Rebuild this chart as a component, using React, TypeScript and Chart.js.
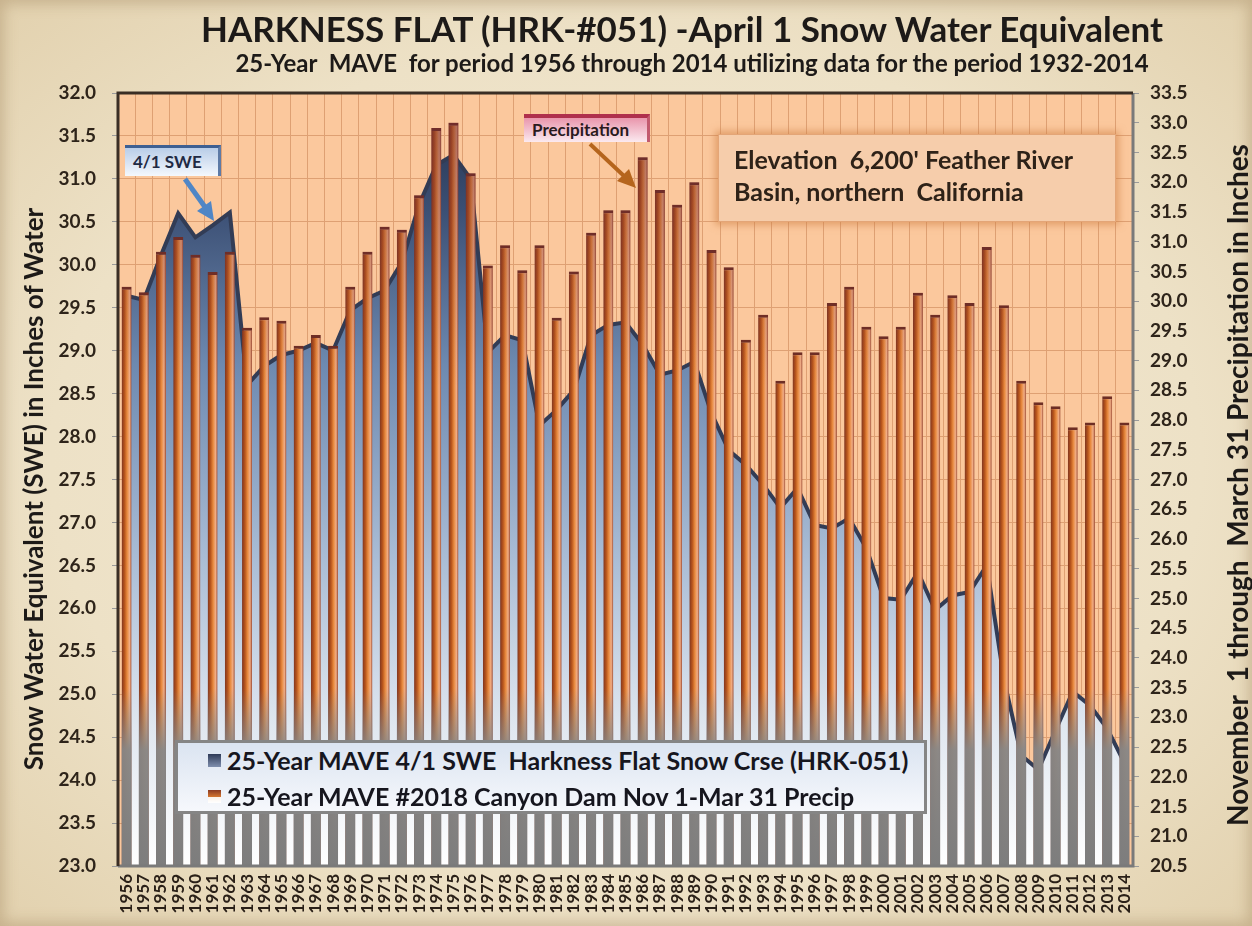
import React, { useEffect, useRef } from "react";
import { Chart, registerables } from "chart.js";

Chart.register(...registerables);

const FONT = "Lato, 'Open Sans', 'DejaVu Sans', sans-serif";

const years = [
  "1956", "1957", "1958", "1959", "1960", "1961", "1962", "1963", "1964", "1965",
  "1966", "1967", "1968", "1969", "1970", "1971", "1972", "1973", "1974", "1975",
  "1976", "1977", "1978", "1979", "1980", "1981", "1982", "1983", "1984", "1985",
  "1986", "1987", "1988", "1989", "1990", "1991", "1992", "1993", "1994", "1995",
  "1996", "1997", "1998", "1999", "2000", "2001", "2002", "2003", "2004", "2005",
  "2006", "2007", "2008", "2009", "2010", "2011", "2012", "2013", "2014",
];

// 25-Year MAVE 4/1 SWE, Harkness Flat (left axis, inches of water)
const sweValues = [
  29.64, 29.59, 30.11, 30.6, 30.32, 30.46, 30.61, 28.6, 28.82, 28.95,
  29.0, 29.09, 29.0, 29.47, 29.61, 29.7, 30.03, 30.7, 31.16, 31.28,
  31.0, 28.98, 29.18, 29.12, 28.13, 28.31, 28.54, 29.18, 29.3, 29.33,
  29.07, 28.72, 28.77, 28.87, 28.27, 27.84, 27.67, 27.44, 27.17, 27.4,
  26.97, 26.93, 27.05, 26.7, 26.12, 26.1, 26.42, 25.98, 26.15, 26.19,
  26.5, 25.17, 24.29, 24.12, 24.58, 25.03, 24.87, 24.6, 24.2,
];

// 25-Year MAVE Canyon Dam Nov 1 - Mar 31 precipitation (right axis, inches)
const precipValues = [
  30.24, 30.15, 30.83, 31.08, 30.78, 30.49, 30.83, 29.55, 29.73, 29.67,
  29.25, 29.43, 29.25, 30.24, 30.83, 31.25, 31.2, 31.78, 32.91, 33.0,
  32.15, 30.6, 30.94, 30.52, 30.94, 29.72, 30.5, 31.15, 31.53, 31.53,
  32.42, 31.87, 31.62, 32.0, 30.86, 30.57, 29.35, 29.77, 28.66, 29.14,
  29.14, 29.97, 30.24, 29.57, 29.41, 29.57, 30.14, 29.77, 30.1, 29.97,
  30.91, 29.93, 28.66, 28.3, 28.23, 27.88, 27.96, 28.4, 27.96,
];

const sweAxisMin = 23.0;
const sweAxisMax = 32.0;
const precipAxisMin = 20.5;
const precipAxisMax = 33.5;
const tickStep = 0.5;

const titleText = "HARKNESS FLAT (HRK-#051) -April 1 Snow Water Equivalent";
const subtitleText =
  "25-Year  MAVE  for period 1956 through 2014 utilizing data for the period 1932-2014";
const leftAxisTitle = "Snow Water Equivalent (SWE) in Inches of Water";
const rightAxisTitle = "November  1 through  March 31 Precipitation in Inches";
const legendSwe = "25-Year MAVE 4/1 SWE  Harkness Flat Snow Crse (HRK-051)";
const legendPrecip = "25-Year MAVE #2018 Canyon Dam Nov 1-Mar 31 Precip";
const noteSwe = "4/1 SWE";
const notePrecip = "Precipitation";
const noteElevation1 = "Elevation  6,200' Feather River";
const noteElevation2 = "Basin, northern  California";

const BAR_PCT = 0.58;

const plotFrame = {
  id: "plotFrame",
  beforeDraw(chart: any) {
    const { ctx, chartArea: a } = chart;
    if (!a) return;
    ctx.save();
    ctx.fillStyle = "#FBC89D";
    ctx.fillRect(a.left, a.top, a.right - a.left, a.bottom - a.top);
    ctx.restore();
  },
  afterDraw(chart: any) {
    const { ctx, chartArea: a } = chart;
    if (!a) return;
    ctx.save();
    ctx.lineWidth = 3;
    ctx.strokeStyle = "#7a7a7a";
    ctx.beginPath();
    ctx.moveTo(a.left, a.bottom);
    ctx.lineTo(a.right, a.bottom);
    ctx.lineTo(a.right, a.top);
    ctx.stroke();
    ctx.strokeStyle = "#3a2e25";
    ctx.beginPath();
    ctx.moveTo(a.left, a.bottom);
    ctx.lineTo(a.left, a.top);
    ctx.lineTo(a.right, a.top);
    ctx.stroke();
    ctx.restore();
  },
};

function barGradient(c: any) {
  const chart = c.chart;
  const a = chart.chartArea;
  if (!a || c.type !== "data") return "#c8601e";
  const x = chart.scales.x.getPixelForValue(c.dataIndex);
  const half = ((a.right - a.left) / years.length) * BAR_PCT * 0.5;
  const g = chart.ctx.createLinearGradient(x - half, 0, x + half, 0);
  g.addColorStop(0, "#7e3420");
  g.addColorStop(0.3, "#b9561c");
  g.addColorStop(0.55, "#e88a3e");
  g.addColorStop(0.8, "#f1ad85");
  g.addColorStop(1, "#9a4a32");
  return g;
}

function barShade(c: any) {
  const chart = c.chart;
  const a = chart.chartArea;
  if (!a) return "rgba(0,0,0,0)";
  const g = chart.ctx.createLinearGradient(0, a.top, 0, a.bottom);
  g.addColorStop(0, "rgba(115,45,50,0.55)");
  g.addColorStop(0.38, "rgba(115,45,50,0)");
  g.addColorStop(0.77, "rgba(135,135,135,0)");
  g.addColorStop(0.85, "rgba(135,135,135,0.95)");
  g.addColorStop(1, "rgba(125,125,125,1)");
  return g;
}

function areaGradient(c: any) {
  const chart = c.chart;
  const a = chart.chartArea;
  if (!a) return "#7f9cc2";
  const g = chart.ctx.createLinearGradient(0, a.top, 0, a.bottom);
  g.addColorStop(0, "#232e47");
  g.addColorStop(0.15, "#3b4f74");
  g.addColorStop(0.35, "#6d89b0");
  g.addColorStop(0.6, "#a9bcd5");
  g.addColorStop(0.82, "#e0e7f0");
  g.addColorStop(1, "#ffffff");
  return g;
}

const tickFont = (size: number) => ({ family: FONT, weight: "bold" as const, size });

export default function App() {
  const canvasRef = useRef<HTMLCanvasElement | null>(null);

  useEffect(() => {
    if (!canvasRef.current) return;
    const chart = new Chart(canvasRef.current, {
      type: "bar",
      data: {
        labels: years,
        datasets: [
          {
            type: "bar",
            label: "precip-shade",
            data: precipValues,
            yAxisID: "y1",
            order: 0,
            grouped: false,
            barPercentage: BAR_PCT,
            categoryPercentage: 1,
            backgroundColor: barShade,
            borderWidth: 0,
          } as any,
          {
            type: "bar",
            label: legendPrecip,
            data: precipValues,
            yAxisID: "y1",
            order: 1,
            grouped: false,
            barPercentage: BAR_PCT,
            categoryPercentage: 1,
            backgroundColor: barGradient,
            borderColor: "#6e2e24",
            borderWidth: { top: 3, left: 0, right: 0, bottom: 0 },
          } as any,
          {
            type: "line",
            label: legendSwe,
            data: sweValues,
            yAxisID: "y",
            order: 2,
            fill: "start",
            backgroundColor: areaGradient,
            borderColor: "#323c55",
            borderWidth: 4,
            pointRadius: 0,
            tension: 0,
          } as any,
        ],
      },
      options: {
        responsive: false,
        animation: false,
        events: [],
        layout: { padding: { top: 93, left: 0, right: 0, bottom: 0 } },
        plugins: {
          legend: { display: false },
          tooltip: { enabled: false },
          title: { display: false },
        },
        scales: {
          x: {
            type: "category",
            offset: true,
            grid: { color: "#DEA073", lineWidth: 1, offset: true, drawTicks: false },
            border: { display: false },
            ticks: {
              autoSkip: false,
              maxRotation: 90,
              minRotation: 90,
              font: tickFont(17),
              color: "#2a2018",
              padding: 8,
            },
            afterFit: (s: any) => {
              s.height = 60;
            },
          },
          y: {
            position: "left",
            min: sweAxisMin,
            max: sweAxisMax,
            ticks: {
              stepSize: tickStep,
              callback: (v: any) => Number(v).toFixed(1),
              font: tickFont(19),
              color: "#2e241a",
              padding: 16,
            },
            grid: { color: "#DEA073", tickColor: "#9a9a9a", tickLength: 6 },
            border: { display: false },
            afterFit: (s: any) => {
              s.width = 118;
            },
          },
          y1: {
            position: "right",
            min: precipAxisMin,
            max: precipAxisMax,
            ticks: {
              stepSize: tickStep,
              callback: (v: any) => Number(v).toFixed(1),
              font: tickFont(19),
              color: "#2e241a",
              padding: 11,
            },
            grid: { drawOnChartArea: false, tickColor: "#9a9a9a", tickLength: 6 },
            border: { display: false },
            afterFit: (s: any) => {
              s.width = 119;
            },
          },
        },
      } as any,
      plugins: [plotFrame],
    });
    return () => chart.destroy();
  }, []);

  const textBase: React.CSSProperties = {
    position: "absolute",
    fontFamily: FONT,
    fontWeight: 700,
    color: "#1d1a18",
    whiteSpace: "pre",
  };

  return (
    <div
      style={{
        position: "absolute",
        left: 0,
        top: 0,
        width: 1252,
        height: 926,
        overflow: "hidden",
        background:
          "radial-gradient(ellipse at 50% 50%, #f3ead6 0%, #ede1c6 65%, #e2d1ae 100%)",
        boxShadow: "inset 0 0 14px 4px rgba(150,120,80,0.35)",
      }}
    >
      <canvas
        ref={canvasRef}
        width={1252}
        height={926}
        style={{ position: "absolute", left: 0, top: 0, width: 1252, height: 926 }}
      />

      <div
        style={{
          ...textBase,
          left: 82,
          width: 1200,
          top: 6,
          textAlign: "center",
          fontSize: 35,
          lineHeight: "44px",
        }}
      >
        {titleText}
      </div>
      <div
        style={{
          ...textBase,
          left: 92,
          width: 1200,
          top: 48,
          textAlign: "center",
          fontSize: 24,
          lineHeight: "29px",
        }}
      >
        {subtitleText}
      </div>

      <div
        style={{
          ...textBase,
          left: 33 - 350,
          top: 489 - 17,
          width: 700,
          height: 34,
          lineHeight: "34px",
          textAlign: "center",
          fontSize: 26,
          transform: "rotate(-90deg)",
        }}
      >
        {leftAxisTitle}
      </div>
      <div
        style={{
          ...textBase,
          left: 1237 - 400,
          top: 485 - 17,
          width: 800,
          height: 34,
          lineHeight: "34px",
          textAlign: "center",
          fontSize: 28,
          transform: "rotate(-90deg)",
        }}
      >
        {rightAxisTitle}
      </div>

      {/* annotation: 4/1 SWE */}
      <div
        style={{
          ...textBase,
          left: 125,
          top: 145,
          width: 96,
          height: 31,
          boxSizing: "border-box",
          borderTop: "3px solid #3d5f92",
          borderRight: "3px solid #5d7aa6",
          background: "linear-gradient(#b9cde8, #f4f8fd)",
          fontSize: 17,
          lineHeight: "27px",
          paddingLeft: 8,
          color: "#1f2a44",
        }}
      >
        {noteSwe}
      </div>

      {/* annotation: Precipitation */}
      <div
        style={{
          ...textBase,
          left: 524,
          top: 114,
          width: 126,
          height: 28,
          boxSizing: "border-box",
          borderTop: "4px solid #b0304c",
          borderRight: "3px solid #c25a6e",
          background: "linear-gradient(#e996ac, #fbeaf0)",
          fontSize: 17,
          lineHeight: "23px",
          paddingLeft: 8,
          color: "#2a1a1e",
        }}
      >
        {notePrecip}
      </div>

      {/* annotation: Elevation */}
      <div
        style={{
          ...textBase,
          left: 718,
          top: 134,
          width: 398,
          height: 88,
          boxSizing: "border-box",
          background: "#F6CDAB",
          border: "1px solid #e3a577",
          boxShadow: "0 0 7px 3px rgba(205,125,65,0.55)",
          fontSize: 25,
          lineHeight: "32px",
          paddingLeft: 15,
          paddingTop: 8,
          color: "#2e2218",
        }}
      >
        {noteElevation1}
        {"\n"}
        {noteElevation2}
      </div>

      {/* legend */}
      <div
        style={{
          position: "absolute",
          left: 175,
          top: 740,
          width: 752,
          height: 74,
          boxSizing: "border-box",
          border: "3px solid #858585",
          background: "linear-gradient(#dbe4f1, #f6f8fc)",
        }}
      />
      <div
        style={{
          position: "absolute",
          left: 208,
          top: 754,
          width: 13,
          height: 13,
          background: "linear-gradient(#2f3b58, #7f8fae)",
        }}
      />
      <div
        style={{
          position: "absolute",
          left: 208,
          top: 790,
          width: 13,
          height: 13,
          background: "linear-gradient(#8a3a22 0%, #d0732f 50%, #fbf3ea 55%, #ffffff 100%)",
        }}
      />
      <div
        style={{
          ...textBase,
          left: 227,
          top: 744,
          fontSize: 25,
          lineHeight: "32px",
          color: "#16161e",
        }}
      >
        {legendSwe}
      </div>
      <div
        style={{
          ...textBase,
          left: 227,
          top: 780,
          fontSize: 25,
          lineHeight: "32px",
          color: "#16161e",
        }}
      >
        {legendPrecip}
      </div>

      <svg
        width={1252}
        height={926}
        style={{ position: "absolute", left: 0, top: 0, pointerEvents: "none" }}
      >
        <line x1={185} y1={179} x2={205} y2={207} stroke="#4f86c6" strokeWidth={5} />
        <polygon points="214,221 197,211 211,201" fill="#4f86c6" />
        <line x1={590} y1={144} x2={624} y2={176} stroke="#b5651d" strokeWidth={4} />
        <polygon points="636,188 617,181 629,169" fill="#b5651d" />
      </svg>
    </div>
  );
}
